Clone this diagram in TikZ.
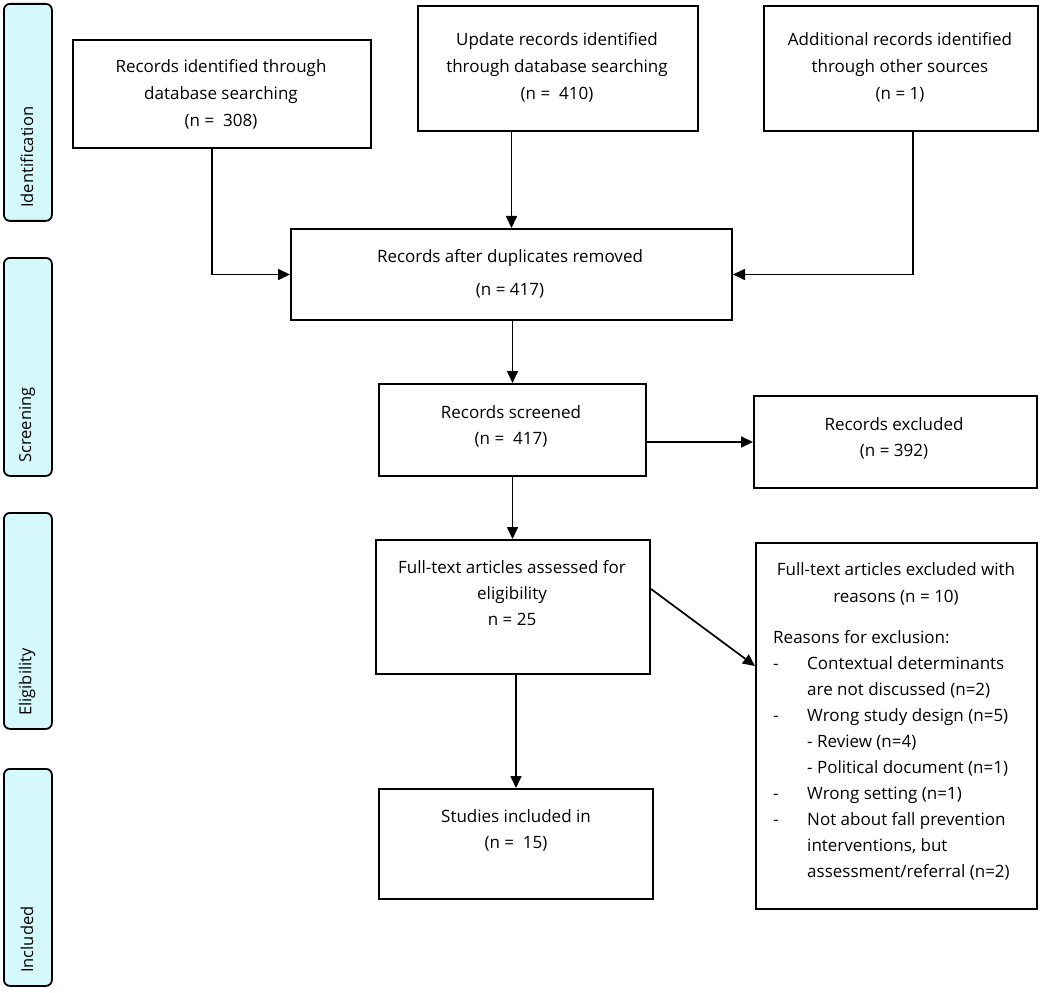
\documentclass[tikz,border=0pt]{standalone}
\usepackage{fontspec}
\setmainfont{Open Sans}
\usetikzlibrary{arrows.meta,calc}
\definecolor{labfill}{HTML}{D4F8FC}
\begin{document}
\begin{tikzpicture}[x=1pt,y=-1pt,
  box/.style={draw, line width=2pt, rectangle, anchor=north west, inner sep=0pt},
  lab/.style={draw, line width=1.8pt, rounded corners=6pt, fill=labfill, rectangle, anchor=north west, inner sep=0pt, minimum width=48pt},
  txt/.style={align=center, font=\fontsize{17}{27}\selectfont, inner sep=0pt, anchor=base},
  ltxt/.style={align=left, font=\fontsize{17}{26}\selectfont, inner sep=0pt, anchor=base west},
  stxt/.style={rotate=90, anchor=west, font=\fontsize{16.5}{20}\selectfont, inner sep=0pt},
  arr/.style={line width=1.7pt, -{Triangle[length=12pt,width=11pt]}},
]
\fill[white] (0,0) rectangle (1040,992);
\useasboundingbox (0,0) rectangle (1040,992);

% stage labels
\node[lab, minimum height=217pt] (lid) at (3,3) {};
\node[stxt] (tid) at (27,208) {Identification};
\node[lab, minimum height=218pt] (lsc) at (3,257) {};
\node[stxt] (tsc) at (27,463) {Screening};
\node[lab, minimum height=216pt] (lel) at (3,512) {};
\node[stxt] (tel) at (27,716) {Eligibility};
\node[lab, minimum height=217pt] (lin) at (3,768) {};
\node[stxt] (tin) at (27,973) {Included};

% boxes
\node[box, minimum width=298pt, minimum height=108pt] (b1) at (72,39) {};
\node[box, minimum width=280pt, minimum height=125pt] (b2) at (417,5) {};
\node[box, minimum width=274pt, minimum height=125pt] (b3) at (763,5) {};
\node[box, minimum width=441pt, minimum height=91pt] (b4) at (290,228) {};
\node[box, minimum width=267pt, minimum height=92pt] (b5) at (378,383) {};
\node[box, minimum width=283pt, minimum height=92pt] (ex1) at (753,395) {};
\node[box, minimum width=274pt, minimum height=134pt] (b6) at (375,539) {};
\node[box, minimum width=281pt, minimum height=366pt] (exc) at (755,542) {};
\node[box, minimum width=274pt, minimum height=110pt] (b7) at (378,788) {};

% texts (anchor = baseline of last line)
\node[txt] (t1) at (221,127) {Records identified through\\database searching\\(n = \ 308)};
\node[txt] (t2) at (557,100) {Update records identified\\through database searching\\(n = \ 410)};
\node[txt] (t3) at (900,100) {Additional records identified\\through other sources\\(n = 1)};
\node[txt] (t4) at (510,295) {Records after duplicates removed\\[6pt](n = 417)};
\node[txt, font=\fontsize{17}{26}\selectfont] (t5) at (511,444) {Records screened\\(n = \ 417)};
\node[txt, font=\fontsize{17}{26}\selectfont] (t6) at (894,456) {Records excluded\\(n = 392)};
\node[txt, font=\fontsize{17}{26}\selectfont] (t7) at (512,625) {Full-text articles assessed for\\eligibility\\n = 25};
\node[txt] (t8) at (896,602) {Full-text articles excluded with\\reasons (n = 10)};
\node[ltxt] (t9) at (773,877) {Reasons for exclusion:\\
\makebox[34pt][l]{-}Contextual determinants\\
\hspace*{34pt}are not discussed (n=2)\\
\makebox[34pt][l]{-}Wrong study design (n=5)\\
\hspace*{34pt}- Review (n=4)\\
\hspace*{34pt}- Political document (n=1)\\
\makebox[34pt][l]{-}Wrong setting (n=1)\\
\makebox[34pt][l]{-}Not about fall prevention\\
\hspace*{34pt}interventions, but\\
\hspace*{34pt}assessment/referral (n=2)};
\node[txt, font=\fontsize{17}{26}\selectfont] (t10) at (516,848) {Studies included in\\(n = \ 15)};

% connectors
\draw[arr] ([xshift=-10pt]b1.south) |- (b4.west);
\draw[arr] ([xshift=12pt]b3.south) |- (b4.east);
\draw[arr] (b2.south -| b4.north) -- (b4.north);
\draw[arr] (b4.south -| b5.north) -- (b5.north);
\draw[arr] (b5.east |- ex1.west) -- (ex1.west);
\draw[arr] (b5.south) -- (b5.south |- b6.north);
\draw[arr] ($(b6.east)+(0,-18)$) -- ($(exc.west)+(0,-60)$);
\draw[arr] (b6.south -| b7.north) -- (b7.north);
\end{tikzpicture}
\end{document}
